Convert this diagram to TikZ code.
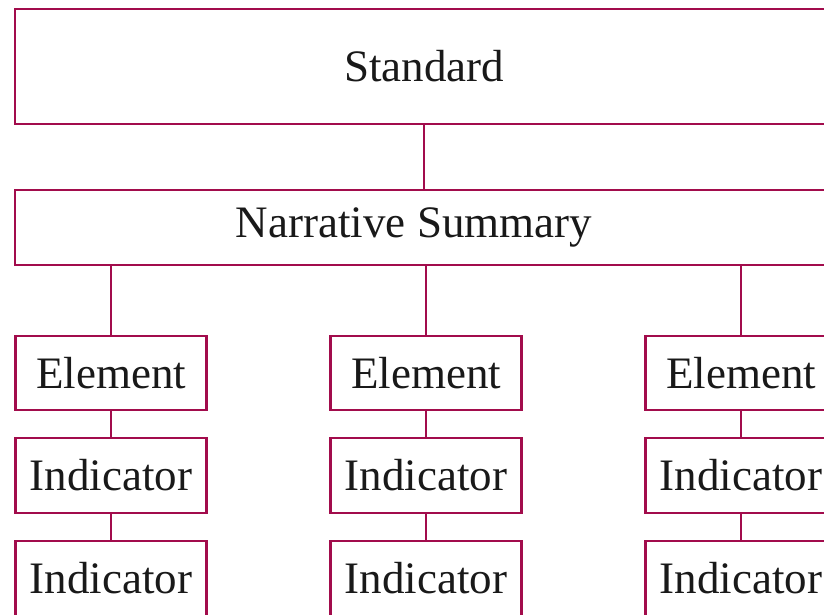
\documentclass[tikz,border=0pt]{standalone}
\usepackage{fontspec}
\setmainfont{Liberation Serif}
\usepackage{tikz}
\usetikzlibrary{positioning}
\definecolor{rubineRed}{RGB}{162,12,76}
\tikzstyle{levelBox}=[draw=rubineRed, line width=2.8pt, rectangle, inner sep=0pt, outer sep=0pt, font=\fontsize{45}{48}\selectfont, text=black!90]
\tikzstyle{treeLink}=[draw=rubineRed, line width=2.8pt]

\begin{document}
\begin{tikzpicture}[x=1pt,y=1pt]
    \useasboundingbox (0,0) rectangle (824,-614);
    \clip (0,0) rectangle (824,-614);
    \node[levelBox, minimum width=818pt, minimum height=115pt] (std) at (424,-66.5) {Standard};
    \node[levelBox, minimum width=818pt, minimum height=75pt] (sum) at (424,-227.5) {Narrative Summary\hspace*{20pt}};

    \foreach \c/\x in {1/111, 2/426, 3/741} {
        \node[levelBox, minimum width=191pt, minimum height=74pt] (e\c) at (\x,-373) {Element};
        \node[levelBox, minimum width=191pt, minimum height=75pt] (i\c) at (\x,-475.5) {Indicator};
        \node[levelBox, minimum width=191pt, minimum height=75pt] (j\c) at (\x,-578.5) {Indicator};
    }

    \draw[treeLink] (std) -- (sum);
    \foreach \c in {1,2,3} {
        \draw[treeLink] (e\c.north |- sum.south) -- (e\c.north);
        \draw[treeLink] (e\c) -- (i\c);
        \draw[treeLink] (i\c) -- (j\c);
    }
\end{tikzpicture}
\end{document}
